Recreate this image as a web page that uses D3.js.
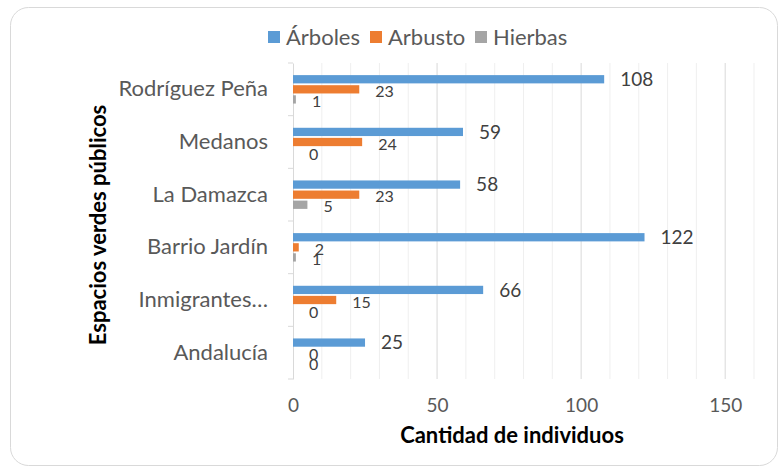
<!DOCTYPE html>
<html>
<head>
<meta charset="utf-8">
<script src="https://cdn.jsdelivr.net/npm/d3@7"></script>
<style>
  body { margin: 0; background: #fff; }
  svg text { font-family: Lato, "Open Sans", sans-serif; }
</style>
</head>
<body>
<div id="chart"></div>
<script>
// Chart data
const categories = ['Rodríguez Peña', 'Medanos', 'La Damazca', 'Barrio Jardín', 'Inmigrantes…', 'Andalucía'];
const seriesNames = ['Árboles', 'Arbusto', 'Hierbas'];
const arboles = [108, 59, 58, 122, 66, 25];
const arbusto = [23, 24, 23, 2, 15, 0];
const hierbas = [1, 0, 5, 1, 0, 0];
const xTicks = [0, 50, 100, 150];
const colors = ['#5B9BD5', '#ED7D31', '#A5A5A5'];

const W = 783, H = 473;
const margin = { top: 63, right: 29, bottom: 94, left: 293 };
const width = W - margin.left - margin.right;
const height = H - margin.top - margin.bottom;

const svg = d3.select('#chart').append('svg')
  .attr('width', W)
  .attr('height', H);

// Outer frame
svg.append('rect')
  .attr('x', 10.5).attr('y', 7.5)
  .attr('width', 767).attr('height', 458)
  .attr('rx', 18)
  .attr('fill', '#fff')
  .attr('stroke', '#d9d9d9');

const g = svg.append('g')
  .attr('transform', `translate(${margin.left},${margin.top})`);

const x = d3.scaleLinear().domain([0, 160]).range([0, width]);
const y = d3.scaleBand().domain(categories).range([0, height])
  .paddingInner(0.46).paddingOuter(0.23);
const ySub = d3.scaleBand().domain(seriesNames).range([0, y.bandwidth()]).paddingInner(0.18);

// Minor gridlines
g.append('g')
  .selectAll('line')
  .data(d3.range(10, 161, 10).filter(v => v % 50 !== 0))
  .enter().append('line')
  .attr('x1', d => x(d)).attr('x2', d => x(d))
  .attr('y1', 0).attr('y2', height)
  .attr('stroke', '#efefef');

// Major gridlines
g.append('g')
  .selectAll('line')
  .data(xTicks.slice(1))
  .enter().append('line')
  .attr('x1', d => x(d)).attr('x2', d => x(d))
  .attr('y1', 0).attr('y2', height)
  .attr('stroke', '#d9d9d9');

// X tick labels
g.append('g')
  .attr('transform', `translate(0,${height})`)
  .call(d3.axisBottom(x).tickValues(xTicks).tickSize(0).tickPadding(20))
  .call(a => a.select('.domain').remove())
  .selectAll('text')
  .attr('fill', '#595959')
  .style('font-size', '19px');

// Y axis
const yAxis = g.append('g')
  .call(d3.axisLeft(y).tickSize(0).tickPadding(25));
yAxis.select('.domain').attr('stroke', '#d9d9d9');
yAxis.selectAll('text')
  .attr('fill', '#595959')
  .style('font-size', '22px');

// Tick marks at band boundaries
const bounds = categories.map(c => y(c) - y.step() * y.paddingInner() / 2).concat([height]);
g.append('g')
  .selectAll('line')
  .data(bounds)
  .enter().append('line')
  .attr('x1', -5).attr('x2', 0)
  .attr('y1', d => d).attr('y2', d => d)
  .attr('stroke', '#d9d9d9');

// Bars
const rows = categories.map((c, i) => ({
  cat: c,
  values: [arboles[i], arbusto[i], hierbas[i]]
}));

const groups = g.selectAll('.grp')
  .data(rows)
  .enter().append('g')
  .attr('class', 'grp')
  .attr('transform', d => `translate(0,${y(d.cat)})`);

groups.selectAll('rect')
  .data(d => d.values.map((v, k) => ({ v, k })))
  .enter().append('rect')
  .attr('x', 0)
  .attr('y', d => ySub(seriesNames[d.k]))
  .attr('width', d => x(d.v))
  .attr('height', ySub.bandwidth())
  .attr('fill', d => colors[d.k]);

// Value labels
groups.selectAll('.lbl')
  .data(d => d.values.map((v, k) => ({ v, k })))
  .enter().append('text')
  .attr('class', 'lbl')
  .attr('x', d => x(d.v) + 16)
  .attr('y', d => ySub(seriesNames[d.k]) + ySub.bandwidth() / 2 + (d.k === 0 ? 0 : 2))
  .attr('dy', '0.35em')
  .attr('fill', '#404040')
  .style('font-size', d => d.k === 0 ? '19px' : '16px')
  .text(d => d.v);

// Axis titles
svg.append('text')
  .attr('x', 512)
  .attr('y', 443)
  .attr('text-anchor', 'middle')
  .style('font-size', '22px')
  .style('font-weight', 'bold')
  .attr('fill', '#000')
  .text('Cantidad de individuos');

svg.append('text')
  .attr('transform', `translate(106,${margin.top + height / 2 + 4}) rotate(-90)`)
  .attr('text-anchor', 'middle')
  .style('font-size', '22px')
  .style('font-weight', 'bold')
  .attr('fill', '#000')
  .text('Espacios verdes públicos');

// Legend
const legendX = [268, 370, 475];
const legend = svg.append('g').attr('transform', 'translate(0,37)');
const items = legend.selectAll('g')
  .data(seriesNames)
  .enter().append('g')
  .attr('transform', (d, i) => `translate(${legendX[i]},0)`);
items.append('rect')
  .attr('x', 0).attr('y', -6)
  .attr('width', 12).attr('height', 12)
  .attr('fill', (d, i) => colors[i]);
items.append('text')
  .attr('x', 18)
  .attr('dy', '0.35em')
  .attr('fill', '#595959')
  .style('font-size', '22px')
  .text(d => d);
</script>
</body>
</html>
